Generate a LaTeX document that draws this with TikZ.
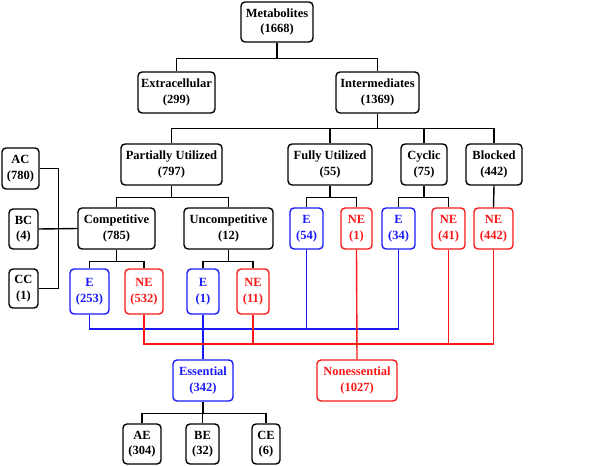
\documentclass[tikz,border=0pt]{standalone}
\usepackage{fontspec}
\setmainfont{Liberation Serif}
\definecolor{myblue}{RGB}{25,25,250}
\definecolor{myred}{RGB}{250,25,25}
\tikzset{
  box/.style={draw, rounded corners=4pt, line width=1.4pt, align=center, inner sep=0pt,
    font=\fontsize{12.5}{15.5}\selectfont\bfseries},
  bbox/.style={box, draw=myblue, text=myblue},
  rbox/.style={box, draw=myred, text=myred},
  conn/.style={line width=1.4pt},
  bconn/.style={conn, draw=myblue},
  rconn/.style={conn, draw=myred},
  sz/.style 2 args={minimum width=#1pt, minimum height=#2pt}
}
\begin{document}
\begin{tikzpicture}[x=1pt,y=-1pt]
\useasboundingbox (0,0) rectangle (600,466);
\node[box,sz={72}{40}] (meta) at (277,22) {Metabolites\\(1668)};
\node[box,sz={77}{41}] (ext) at (176.5,92.5) {Extracellular\\(299)};
\node[box,sz={83}{41}] (int) at (377.5,92.5) {Intermediates\\(1369)};
\node[box,sz={101}{41}] (pu) at (171.5,164.5) {Partially Utilized\\(797)};
\node[box,sz={84}{41}] (fu) at (330,164.5) {Fully Utilized\\(55)};
\node[box,sz={46}{41}] (cyc) at (424,164.5) {Cyclic\\(75)};
\node[box,sz={56}{41}] (blk) at (494,164.5) {Blocked\\(442)};
\node[box,sz={37}{41}] (ac) at (20.5,168.5) {AC\\(780)};
\node[box,sz={29}{40}] (bc) at (23.5,229) {BC\\(4)};
\node[box,sz={29}{39}] (cc) at (23.5,288.5) {CC\\(1)};
\node[box,sz={77}{41}] (comp) at (116.5,228.5) {Competitive\\(785)};
\node[box,sz={89}{41}] (unc) at (228.5,228.5) {Uncompetitive\\(12)};
\node[bbox,sz={33}{41}] (e54) at (306.5,228.5) {E\\(54)};
\node[rbox,sz={31}{41}] (ne1) at (356.5,228.5) {NE\\(1)};
\node[bbox,sz={33}{41}] (e34) at (398.5,228.5) {E\\(34)};
\node[rbox,sz={33}{41}] (ne41) at (448.5,228.5) {NE\\(41)};
\node[rbox,sz={39}{41}] (ne442) at (493.5,228.5) {NE\\(442)};
\node[bbox,sz={39}{45}] (e253) at (89.5,291.5) {E\\(253)};
\node[rbox,sz={38}{45}] (ne532) at (144,291.5) {NE\\(532)};
\node[bbox,sz={32}{45}] (e1) at (203,291.5) {E\\(1)};
\node[rbox,sz={32}{45}] (ne11) at (253,291.5) {NE\\(11)};
\node[bbox,sz={60}{41}] (ess) at (203,380.5) {Essential\\(342)};
\node[rbox,sz={80}{41}] (non) at (357,380.5) {Nonessential\\(1027)};
\node[box,sz={38}{40}] (ae) at (142,444) {AE\\(304)};
\node[box,sz={33}{40}] (be) at (202.5,444) {BE\\(32)};
\node[box,sz={28}{40}] (ce) at (266,444) {CE\\(6)};
% black tree
\draw[conn] (meta.south) -- ++(0,15.5) coordinate (m1);
\draw[conn] (ext.north) |- (m1) -| (int.north);
\draw[conn] (int.south) -- ++(0,15) coordinate (i1);
\draw[conn] (pu.north) |- (i1) -| (blk.north);
\draw[conn] (fu.north) -- (fu.north |- i1);
\draw[conn] (cyc.north) -- (cyc.north |- i1);
\draw[conn] (pu.south) -- ++(0,12) coordinate (p1);
\draw[conn] (comp.north) |- (p1) -| (unc.north);
\draw[conn] (fu.south) -- ++(0,12) coordinate (f1);
\draw[conn] (e54.north) |- (f1) -| (ne1.north);
\draw[conn] (cyc.south) -- ++(0,12) coordinate (c1);
\draw[conn] (e34.north) |- (c1) -| (ne41.north);
\draw[conn] (blk.south) -- (ne442.north);
\draw[conn] (comp.south) -- ++(0,12) coordinate (k1);
\draw[conn] (e253.north) |- (k1) -| (ne532.north);
\draw[conn] (unc.south) -- ++(0,12) coordinate (u1);
\draw[conn] (e1.north) |- (u1) -| (ne11.north);
\coordinate (x1) at (58.7,0);
\draw[conn] (ac.east) -| (ac.east -| x1) |- (cc.east);
\draw[conn] (bc.east) -- (comp.west);
\draw[conn] (ess.south) -- ++(0,12) coordinate (s1);
\draw[conn] (ae.north) |- (s1) -| (ce.north);
\draw[conn] (be.north) -- (be.north |- s1);
% blue
\coordinate (yb) at (0,329);
\draw[bconn] (e253.south) |- (e34.south |- yb) -- (e34.south);
\draw[bconn] (e1.south) -- (ess.north);
\draw[bconn] (e54.south) -- (e54.south |- yb);
% red
\coordinate (yr) at (0,344);
\draw[rconn] (ne532.south) |- (ne442.south |- yr) -- (ne442.south);
\draw[rconn] (ne11.south) -- (ne11.south |- yr);
\draw[rconn] (ne1.south) -- (non.north);
\draw[rconn] (ne41.south) -- (ne41.south |- yr);
\end{tikzpicture}
\end{document}
